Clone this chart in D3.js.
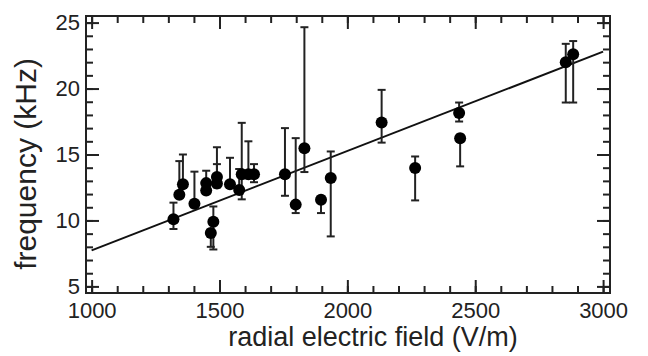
<!DOCTYPE html>
<html>
<head>
<meta charset="utf-8">
<script src="https://cdn.jsdelivr.net/npm/d3@7"></script>
<style>
  body { margin: 0; background: #fff; }
  svg text { font-family: "Liberation Sans", Arial, sans-serif; fill: #222; }
</style>
</head>
<body>
<div id="chart"></div>
<script>
// measured points: radial field (V/m), frequency (kHz) and error bar bounds
var field   = [1320, 1343, 1357, 1402, 1448, 1448, 1466, 1476, 1490, 1490, 1541, 1577, 1587, 1613, 1635,
               1756, 1798, 1832, 1897, 1935, 2134, 2265, 2437, 2441, 2854, 2883];
var freq    = [10.1, 11.95, 12.75, 11.27, 12.27, 12.83, 9.05, 9.9, 12.8, 13.3, 12.75, 12.3, 13.5, 13.5, 13.5,
               13.5, 11.2, 15.48, 11.57, 13.21, 17.42, 13.97, 18.14, 16.24, 22.0, 22.6];
var errLow  = [9.35, 11.7, 12.5, 11.0, 12.0, 12.6, 8.0, 7.8, 12.5, 13.0, 12.5, 12.0, 11.6, 13.2, 12.9,
               11.87, 10.56, 13.67, 10.56, 8.79, 15.9, 11.52, 17.5, 14.1, 18.94, 18.94];
var errHigh = [11.35, 14.5, 15.0, 13.7, 12.5, 13.77, 9.3, 11.06, 14.27, 15.55, 14.75, 13.9, 17.4, 16.0, 14.27,
               17.0, 16.24, 24.65, 11.8, 15.23, 19.9, 14.85, 18.94, 16.5, 23.39, 23.6];

// linear fit end points
var fitX = [1000, 3000];
var fitY = [7.73, 22.8];

var xTicks = [1000, 1500, 2000, 2500, 3000];
var yTicks = [5, 10, 15, 20, 25];
var xMinor = d3.range(1000, 3001, 100);
var yMinor = d3.range(5, 26, 1);

var width = 648, height = 356;
var margin = { left: 86, right: 610, top: 16, bottom: 293 };

var svg = d3.select("#chart")
  .append("svg")
  .attr("width", width)
  .attr("height", height);

var x = d3.scaleLinear().domain([978, 3027]).range([margin.left, margin.right]);
var y = d3.scaleLinear().domain([4.5, 25.5]).range([margin.bottom, margin.top]);

// axes with inward ticks (major + minor) on all four sides
function styleAxis(g) {
  g.select(".domain").remove();
  g.selectAll("line").attr("stroke", "#222").attr("stroke-width", 2);
  g.selectAll("text").style("font-size", "22px");
}

svg.append("g")
  .attr("transform", "translate(0," + margin.bottom + ")")
  .call(d3.axisBottom(x).tickValues(xMinor).tickSize(-7).tickFormat(""))
  .call(styleAxis);
svg.append("g")
  .attr("transform", "translate(0," + margin.bottom + ")")
  .call(d3.axisBottom(x).tickValues(xTicks).tickSize(-13).tickPadding(9).tickFormat(d3.format("d")))
  .call(styleAxis);
svg.append("g")
  .attr("transform", "translate(0," + margin.top + ")")
  .call(d3.axisTop(x).tickValues(xMinor).tickSize(-7).tickFormat(""))
  .call(styleAxis);
svg.append("g")
  .attr("transform", "translate(0," + margin.top + ")")
  .call(d3.axisTop(x).tickValues(xTicks).tickSize(-13).tickFormat(""))
  .call(styleAxis);

svg.append("g")
  .attr("transform", "translate(" + margin.left + ",0)")
  .call(d3.axisLeft(y).tickValues(yMinor).tickSize(-7).tickFormat(""))
  .call(styleAxis);
svg.append("g")
  .attr("transform", "translate(" + margin.left + ",0)")
  .call(d3.axisLeft(y).tickValues(yTicks).tickSize(-13).tickPadding(6).tickFormat(d3.format("d")))
  .call(styleAxis);
svg.append("g")
  .attr("transform", "translate(" + margin.right + ",0)")
  .call(d3.axisRight(y).tickValues(yMinor).tickSize(-7).tickFormat(""))
  .call(styleAxis);
svg.append("g")
  .attr("transform", "translate(" + margin.right + ",0)")
  .call(d3.axisRight(y).tickValues(yTicks).tickSize(-13).tickFormat(""))
  .call(styleAxis);

// frame
svg.append("rect")
  .attr("x", margin.left)
  .attr("y", margin.top)
  .attr("width", margin.right - margin.left)
  .attr("height", margin.bottom - margin.top)
  .attr("fill", "none")
  .attr("stroke", "#222")
  .attr("stroke-width", 2);

// fit line
svg.append("line")
  .attr("x1", x(fitX[0])).attr("y1", y(fitY[0]))
  .attr("x2", x(fitX[1])).attr("y2", y(fitY[1]))
  .attr("stroke", "#111")
  .attr("stroke-width", 2);

var idx = d3.range(field.length);

// error bars
var eb = svg.append("g").attr("stroke", "#222").attr("stroke-width", 2);
eb.selectAll(".bar")
  .data(idx)
  .enter()
  .append("line")
  .attr("x1", function (i) { return x(field[i]); })
  .attr("x2", function (i) { return x(field[i]); })
  .attr("y1", function (i) { return y(errLow[i]); })
  .attr("y2", function (i) { return y(errHigh[i]); });
eb.selectAll(".capHi")
  .data(idx)
  .enter()
  .append("line")
  .attr("x1", function (i) { return x(field[i]) - 4; })
  .attr("x2", function (i) { return x(field[i]) + 4; })
  .attr("y1", function (i) { return y(errHigh[i]); })
  .attr("y2", function (i) { return y(errHigh[i]); });
eb.selectAll(".capLo")
  .data(idx)
  .enter()
  .append("line")
  .attr("x1", function (i) { return x(field[i]) - 4; })
  .attr("x2", function (i) { return x(field[i]) + 4; })
  .attr("y1", function (i) { return y(errLow[i]); })
  .attr("y2", function (i) { return y(errLow[i]); });

// points
svg.append("g")
  .selectAll("circle")
  .data(idx)
  .enter()
  .append("circle")
  .attr("cx", function (i) { return x(field[i]); })
  .attr("cy", function (i) { return y(freq[i]); })
  .attr("r", 6)
  .attr("fill", "#000");

// axis titles
svg.append("text")
  .attr("x", 373)
  .attr("y", 346)
  .style("text-anchor", "middle")
  .style("font-size", "27px")
  .text("radial electric field (V/m)");

svg.append("text")
  .attr("transform", "translate(36,164) rotate(-90)")
  .style("text-anchor", "middle")
  .style("font-size", "30px")
  .text("frequency (kHz)");
</script>
</body>
</html>
